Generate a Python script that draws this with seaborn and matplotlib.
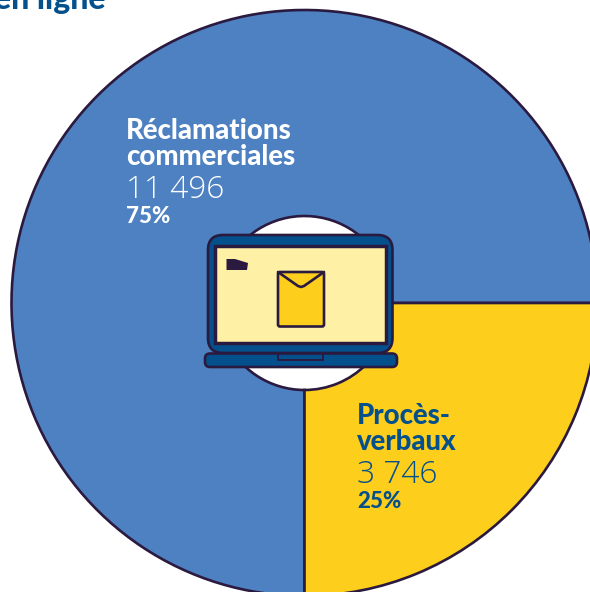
import matplotlib
matplotlib.use("Agg")
import matplotlib.pyplot as plt
import seaborn as sns
from matplotlib.patches import FancyBboxPatch, Polygon, Rectangle

# Données
categories = ["Réclamations\ncommerciales", "Procès-\nverbaux"]
nombres = ["11 496", "3 746"]
parts = [75, 25]
parts_txt = ["75%", "25%"]
titre = "en ligne"

BLEU = "#4e81c1"
JAUNE = "#fdce1c"
NUIT = "#2b1a3f"
MARINE = "#03508c"
PALE = "#fef0a5"

sns.set_theme(style="white")
plt.rcParams["font.family"] = ["Lato", "DejaVu Sans"]

fig = plt.figure(figsize=(5.9, 5.92), dpi=100, facecolor="white")
ax = fig.add_axes([0, 0, 1, 1])

# Coordonnées en pixels, axe y inversé
couleurs = sns.color_palette([BLEU, JAUNE])
ax.pie(
    parts,
    colors=couleurs,
    center=(304.5, 303),
    radius=293,
    startangle=0,
    counterclock=False,
    wedgeprops={"width": 206, "edgecolor": NUIT, "linewidth": 1.9},
)
ax.set_xlim(0, 590)
ax.set_ylim(592, 0)
ax.set_aspect("equal")
ax.axis("off")

# Textes
ax.text(106, 9, titre, color=MARINE, fontsize=23, fontweight="black", ha="right", va="baseline")

coul_txt = ["white", MARINE]
pos_x = [126, 357]
pos_y = [139, 424]
for i in range(2):
    lignes = categories[i].split("\n")
    x, y = pos_x[i], pos_y[i]
    ax.text(x, y, lignes[0], color=coul_txt[i], fontsize=19.8, fontweight="black", va="baseline")
    ax.text(x, y + 26, lignes[1], color=coul_txt[i], fontsize=19.8, fontweight="black", va="baseline")
    ax.text(x, y + 59, nombres[i], color=coul_txt[i], fontsize=22.8, family="Open Sans",
            fontweight="light", va="baseline")
    ax.text(x, y + 84, parts_txt[i], color=coul_txt[i], fontsize=16, fontweight="black", va="baseline")

# Ordinateur portable
lw = 1.9
corps = FancyBboxPatch((221, 248), 158.5, 92, boxstyle="round,pad=13,rounding_size=15",
                       fc=MARINE, ec=NUIT, lw=lw, zorder=3)
ax.add_patch(corps)
ax.add_patch(Rectangle((215, 246), 171, 97, fc=PALE, ec=NUIT, lw=lw + 0.6, zorder=4))

base = FancyBboxPatch((210, 358.5), 182, 3.5, boxstyle="round,pad=5,rounding_size=5",
                      fc=MARINE, ec=NUIT, lw=lw, zorder=4)
ax.add_patch(base)
ax.plot([278, 278, 323, 323], [354, 359.5, 359.5, 354], color=NUIT, lw=1.4, zorder=5)

ax.add_patch(Polygon([(226.5, 259), (235, 259), (248, 263), (247, 270), (226.5, 270)],
                     fc=NUIT, ec="none", zorder=5))

enveloppe = FancyBboxPatch((278, 272), 46, 54.5, boxstyle="round,pad=0,rounding_size=2",
                           fc=JAUNE, ec=NUIT, lw=lw, zorder=5)
ax.add_patch(enveloppe)
ax.plot([278, 298, 301, 304, 324], [272, 286, 287, 286, 272], color=NUIT, lw=lw,
        solid_joinstyle="round", zorder=6)

fig.savefig("out.png", dpi=100)
